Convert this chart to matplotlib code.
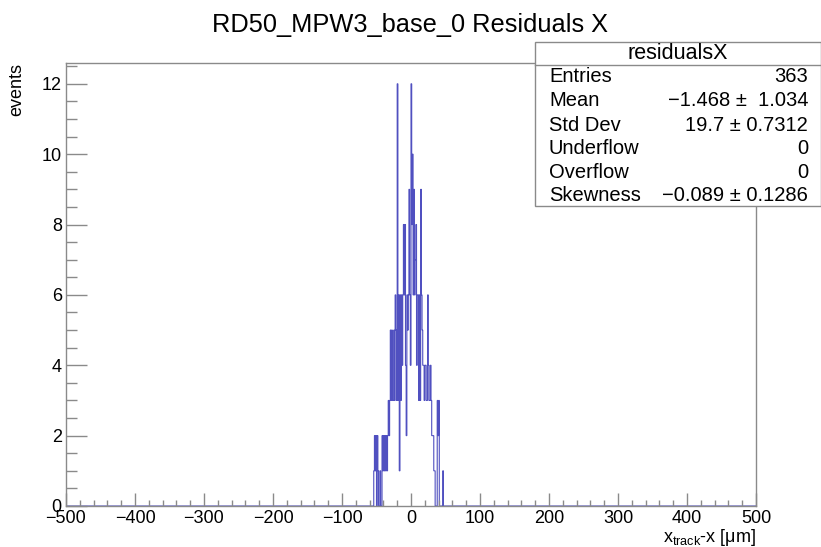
import numpy as np
import matplotlib
matplotlib.use("Agg")
import matplotlib.pyplot as plt
from matplotlib.ticker import MultipleLocator

plt.rcParams['font.family'] = ['Liberation Sans', 'DejaVu Sans']
plt.rcParams['mathtext.fontset'] = 'custom'
plt.rcParams['mathtext.rm'] = 'Liberation Sans'
plt.rcParams['mathtext.it'] = 'Liberation Sans'

# ---- data ----
title = "RD50_MPW3_base_0 Residuals X"
x_min, x_max, n_bins = -500, 500, 1000
first_bin_low = -54          # lower edge of first listed bin (1 um bins)
counts_listed = [
    1, 2, 1, 2, 0, 2, 1, 0, 0, 1,      # -54 .. -45
    0, 0, 2, 1, 2, 1, 2, 1, 2, 1,      # -44 .. -35
    2, 3, 2, 3, 5, 3, 5, 3, 3, 5,      # -34 .. -25
    3, 6, 5, 3, 12, 3, 6, 1, 6, 3,     # -24 .. -15
    6, 4, 6, 8, 6, 8, 4, 2, 6, 5,      # -14 .. -5
    6, 9, 6, 4, 12, 8, 10, 6, 9, 6,    # -4 .. 5
    7, 8, 4, 6, 6, 3, 6, 3, 9, 6,      # 6 .. 15
    5, 4, 4, 3, 4, 4, 3, 3, 6, 4,      # 16 .. 25
    3, 3, 4, 3, 2, 2, 2, 1, 1, 0,      # 26 .. 35
    0, 0, 3, 2, 3, 0, 0, 0, 0, 0, 1,   # 36 .. 46
]
stats_title = "residualsX"
stats_labels = ["Entries", "Mean", "Std Dev", "Underflow", "Overflow", "Skewness"]
stats_values = ["363", "\u22121.468 \u00b1  1.034", "19.7 \u00b1 0.7312", "0", "0",
                "\u22120.089 \u00b1 0.1286"]
x_label = r"x$_{\rm track}$-x [μm]"
y_label = "events"

# ---- build histogram ----
edges = np.linspace(x_min, x_max, n_bins + 1)
counts = np.zeros(n_bins)
start = int(first_bin_low - x_min)
counts[start:start + len(counts_listed)] = counts_listed

W, H = 821, 547
fig = plt.figure(figsize=(W / 100, H / 100), dpi=100)
L, R, T, B = 66, 756, 62.7, 506
ax = fig.add_axes([L / W, 1 - B / H, (R - L) / W, (B - T) / H])

ax.stairs(counts, edges, color='#5050c0', linewidth=0.8)
ax.set_xlim(x_min, x_max)
ax.set_ylim(0, 12.6)

frame_c = '#8a8a8a'
for s in ax.spines.values():
    s.set_color(frame_c)
    s.set_linewidth(1.0)

ax.xaxis.set_major_locator(MultipleLocator(100))
ax.xaxis.set_minor_locator(MultipleLocator(20))
ax.yaxis.set_major_locator(MultipleLocator(2))
ax.yaxis.set_minor_locator(MultipleLocator(0.5))
ax.tick_params(axis='x', which='major', direction='in', length=9.3, width=1.0,
               color=frame_c, labelsize=13, pad=3)
ax.tick_params(axis='x', which='minor', direction='in', length=4.6, width=1.0, color=frame_c)
ax.tick_params(axis='y', which='major', direction='in', length=15, width=1.0,
               color=frame_c, labelsize=13, pad=3)
ax.tick_params(axis='y', which='minor', direction='in', length=7.6, width=1.0, color=frame_c)
ax.set_xticklabels([f"{int(v)}".replace('-', '\u2212') for v in ax.get_xticks()])
ax.set_yticklabels([f"{int(v)}" for v in ax.get_yticks()])

# axis titles
fig.text(R / W, 1 - 537 / H, x_label, ha='right', va='center', fontsize=13)
fig.text(17 / W, 1 - T / H, y_label, ha='center', va='top', rotation=90, fontsize=13)

# title
fig.text(410 / W, 1 - 25 / H, title, ha='center', va='center', fontsize=18.3)

# stats box
bx0, bx1, by0, by1, bhead = 535, 820.5, 42, 206, 65
box = plt.Rectangle((bx0 / W, 1 - by1 / H), (bx1 - bx0) / W, (by1 - by0) / H,
                    transform=fig.transFigure, facecolor='white', edgecolor=frame_c,
                    linewidth=1.0, zorder=5)
fig.patches.append(box)
fig.add_artist(plt.Line2D([bx0 / W, bx1 / W], [1 - bhead / H, 1 - bhead / H],
                          transform=fig.transFigure, color=frame_c, linewidth=1.0, zorder=6))
fig.text((bx0 + bx1) / 2 / W, 1 - 53.5 / H, stats_title, ha='center', va='center',
         fontsize=15.5, zorder=7)
row_y = [77, 101, 125, 148, 172, 195]
for lab, val, yy in zip(stats_labels, stats_values, row_y):
    fig.text(549 / W, 1 - yy / H, lab, ha='left', va='center', fontsize=14.5, zorder=7)
    fig.text(808 / W, 1 - yy / H, val, ha='right', va='center', fontsize=14.5, zorder=7)

fig.savefig("out.png", dpi=100)
